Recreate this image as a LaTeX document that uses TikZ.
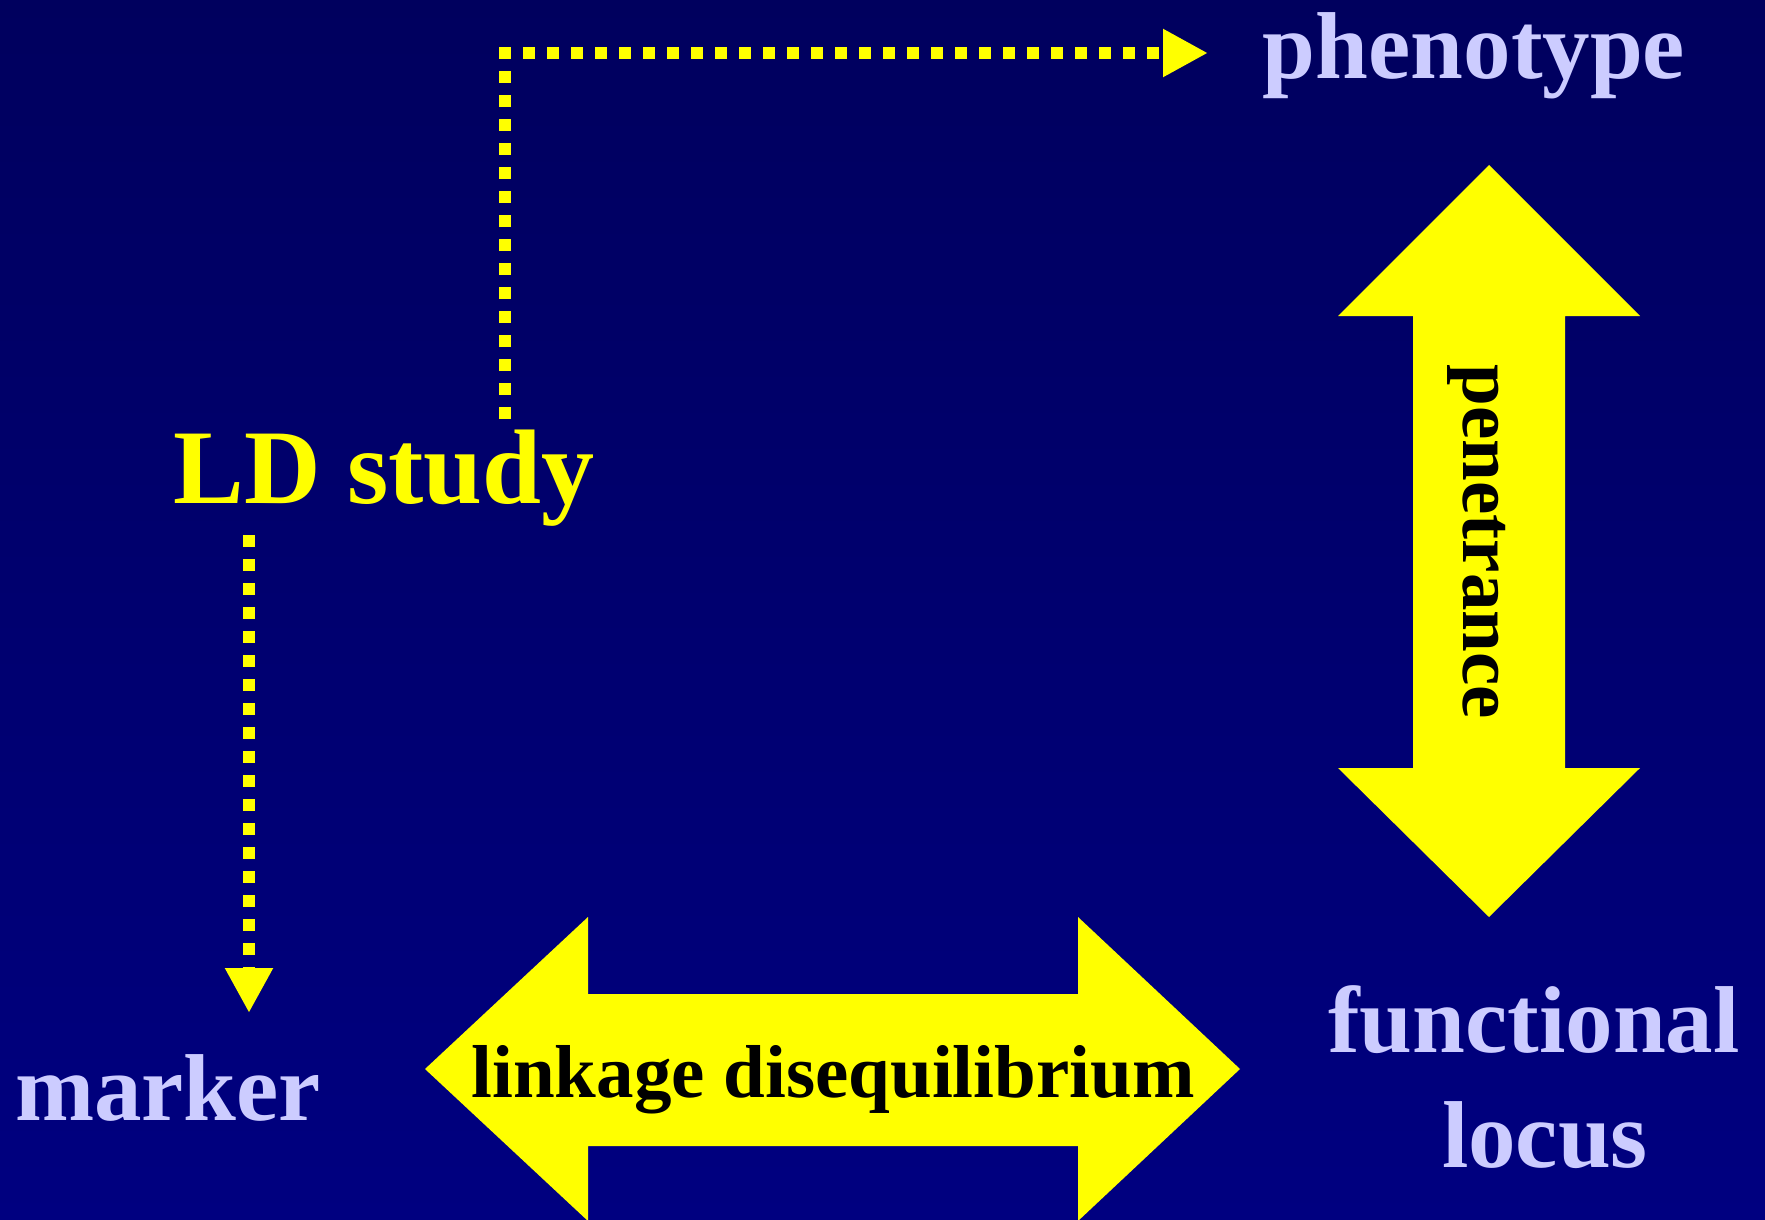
\documentclass[tikz,border=0pt]{standalone}
\usepackage{fontspec}
\setmainfont{Liberation Serif}
\usetikzlibrary{arrows.meta}
\definecolor{bgtop}{HTML}{00005E}
\definecolor{bgbot}{HTML}{000080}
\definecolor{lav}{HTML}{CCCCFF}
\definecolor{yel}{HTML}{FFFF00}
\begin{document}
\begin{tikzpicture}[x=1pt,y=-1pt,
  lavtext/.style={text=lav,font=\bfseries\fontsize{95}{115}\selectfont,inner sep=0pt},
  yeltext/.style={text=yel,font=\bfseries\fontsize{106}{120}\selectfont,inner sep=0pt},
  arrowtext/.style={text=black,font=\bfseries\fontsize{75}{90}\selectfont,inner sep=0pt},
  bigarrow/.style={fill=yel,draw=none},
  dotarrow/.style={draw=yel,line width=12pt,dash pattern=on 12pt off 12pt,
    -{Triangle[length=45pt,width=45pt]},fill=none}]
% background
\shade[top color=bgtop,bottom color=bgbot] (0,0) rectangle (1765,1220);
\useasboundingbox (0,0) rectangle (1765,1220);

% big double arrows
\fill[bigarrow] (1489,165) -- (1640,316) -- (1565,316) -- (1565,768) -- (1640,768)
  -- (1489,917) -- (1338,768) -- (1413,768) -- (1413,316) -- (1338,316) -- cycle;
\fill[bigarrow] (425,1069) -- (588,917) -- (588,994) -- (1078,994) -- (1078,917)
  -- (1240,1069) -- (1078,1221) -- (1078,1146) -- (588,1146) -- (588,1221) -- cycle;

% labels
\node[lavtext,anchor=base] (pheno) at (1474,79) {phenotype};
\node[yeltext,anchor=base] (ld) at (384,503) {LD study};
\node[lavtext,anchor=base] (marker) at (168,1120) {marker};
\node[lavtext,align=center,anchor=center] (func) at (1534,1077) {functional\\\hspace*{22pt}locus};
\node[arrowtext,anchor=base] (ldtext) at (833,1097) {linkage disequilibrium};
\node[arrowtext,rotate=-90,anchor=center] (pen) at (1477,542) {penetrance};

% dotted connectors
\coordinate (a1) at (505,419);
\coordinate (a1end) at (1208,53);
\coordinate (b1) at (249,535);
\coordinate (b1end) at (249,1013);
\draw[dotarrow] (a1) |- (a1end);
\draw[dotarrow] (b1) -- (b1end);
\end{tikzpicture}
\end{document}
